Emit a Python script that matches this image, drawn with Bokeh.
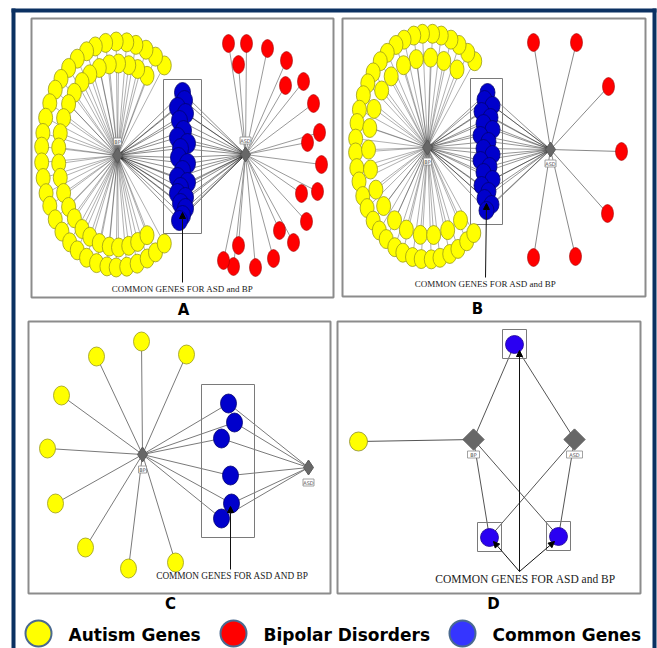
import numpy as np
from bokeh.plotting import figure
from bokeh.models import Range1d, Arrow, NormalHead
from bokeh.core.properties import value
from bokeh.embed import file_html
from bokeh.resources import INLINE

# ---------------- data ----------------
legend_labels = ["Autism Genes", "Bipolar Disorders", "Common Genes"]
legend_colors = ["#ffff00", "#ff0000", "#3535ff"]
legend_x = [38, 233, 462]

panel_letters = ["A", "B", "C", "D"]
captions = ["COMMON GENES FOR ASD and BP", "COMMON GENES FOR ASD and BP",
            "COMMON GENES FOR ASD AND BP", "COMMON GENES FOR ASD and BP"]
hub_names = ["BP", "ASD"]

# panel frames (left, right, top, bottom) and letter / caption anchors
panel_l = [31, 342, 28, 337]
panel_r = [333, 645, 330, 640]
panel_t = [18, 18, 321, 321]
panel_b = [297, 296, 593, 593]
letter_x = [183, 477, 170, 493]
letter_y = [309, 308, 603, 603]
caption_x = [182, 485, 232, 525]
caption_y = [288, 283, 575, 578]
caption_size = ["9px", "9px", "9.3px", "11.5px"]

# Panel A
a_hub_x = [117, 245]
a_hub_y = [155, 154]
a_outer_deg = [-52, -60, -68, -76, -83, -91, -99, -107, -114, -122, -130, -138,
               -145, -153, -161, -169, -176, -184, -192, -200, -207, -215, -223,
               -231, -238, -246, -254, -262, -269, -277, -285, -293, -300, -308]
a_inner_deg = [-60, -70, -79, -89, -98, -108, -118, -127, -137, -146, -156, -166,
               -175, -185, -194, -204, -214, -223, -233, -242, -252, -262, -271,
               -281, -290, -300]
a_red_x = [228, 246, 267, 238, 286, 303, 285, 313, 319, 307, 321, 317, 301, 306,
           279, 293, 238, 273, 255, 233, 223]
a_red_y = [43, 43, 48, 64, 60, 81, 85, 103, 132, 142, 164, 191, 193, 221, 230,
           242, 245, 258, 267, 266, 260]
a_blue_x = [182, 184, 177, 185, 179, 183, 177, 187, 180, 178, 187, 182, 177, 187,
            180, 177, 185, 180, 185, 182, 179]
a_blue_y = [92, 100, 107, 113, 120, 130, 137, 143, 148, 157, 163, 170, 177, 182,
            187, 193, 197, 203, 208, 215, 220]

# Panel B
b_hub_x = [427, 550]
b_hub_y = [147, 149]
b_outer_deg = [-49, -56, -64, -71, -79, -86, -94, -101, -109, -116, -124, -131,
               -139, -146, -153, -161, -168, -176, -183, -191, -198, -206, -213,
               -221, -228, -235, -243, -250, -258, -265, -273, -280, -288, -295,
               -303, -310]
b_inner_deg = [-60, -74, -87, -101, -114, -128, -141, -155, -168, -182, -195,
               -209, -222, -236, -249, -263, -276, -290, -304]
b_red_x = [533, 576, 608, 621, 607, 575, 533]
b_red_y = [42, 42, 86, 151, 213, 256, 257]
b_blue_x = [487, 484, 492, 481, 490, 483, 492, 480, 488, 483, 492, 480, 489, 483,
            492, 481, 488, 484, 491, 486]
b_blue_y = [92, 99, 105, 111, 117, 123, 129, 135, 141, 148, 154, 160, 166, 172,
            179, 185, 191, 198, 204, 210]

# Panel C
c_hub_x = [142, 308]
c_hub_y = [454, 467]
c_yellow_x = [141, 96, 186, 61, 47, 55, 85, 128, 175]
c_yellow_y = [341, 356, 354, 395, 448, 503, 547, 568, 562]
c_blue_x = [228, 234, 221, 230, 231, 221]
c_blue_y = [403, 422, 438, 475, 503, 518]

# Panel D
d_hub_x = [473, 574]
d_hub_y = [439, 439]
d_yellow_x = [358]
d_yellow_y = [441]
d_blue_x = [514, 489, 558]
d_blue_y = [344, 537, 536]
d_edge_hub = [0, 0, 1, 0, 0, 1, 1]      # 0 = BP, 1 = ASD
d_edge_from_yellow = [True, False, False, False, False, False, False]
d_edge_node = [0, 0, 0, 1, 2, 1, 2]

# ---------------- figure ----------------
p = figure(width=657, height=648, x_range=Range1d(0, 657), y_range=Range1d(648, 0),
           output_backend="svg", toolbar_location=None, min_border=0)
p.axis.visible = False
p.grid.visible = False
p.outline_line_color = None
p.background_fill_color = "white"
p.border_fill_color = "white"

NAVY = "#0b3162"
p.quad(left=[11, 11, 652], right=[15, 656, 656], top=[8, 8, 8], bottom=[648, 12, 648],
       fill_color=NAVY, line_color=None)

# panel frames
p.quad(left=panel_l, right=panel_r, top=panel_t, bottom=panel_b,
       fill_color=None, line_color="#8c8c8c", line_width=2)


def ring(cx, cy, rx, ry, deg):
    t = np.radians(np.array(deg, dtype=float))
    return list(cx + rx * np.cos(t)), list(cy + ry * np.sin(t))


def edges(hx, hy, xs, ys, color, alpha, width):
    n = len(xs)
    p.segment(x0=[hx] * n, y0=[hy] * n, x1=xs, y1=ys,
              line_color=color, line_alpha=alpha, line_width=width)


def nodes(xs, ys, w, h, fill, line, lw=0.8):
    p.ellipse(x=xs, y=ys, width=w, height=h, fill_color=fill,
              line_color=line, line_width=lw)


def hubs(hx, hy, size, dy, widths):
    p.scatter(x=hx, y=hy, marker="diamond", size=size, fill_color="#676767",
              line_color="#5a5a5a")
    ly = [y + dy for y in hy]
    p.rect(x=hx, y=ly, width=widths, height=7, fill_color="white",
           line_color="#8a8a8a", line_width=0.8)
    p.text(x=hx, y=ly, text=hub_names, text_font=value("DejaVu Sans"),
           text_font_size="5px", text_color="#555555", text_align="center",
           text_baseline="middle")


def group_box(xs, ys, pad_x, pad_y):
    p.quad(left=[min(xs) - pad_x], right=[max(xs) + pad_x],
           top=[min(ys) - pad_y], bottom=[max(ys) + pad_y],
           fill_color=None, line_color="#7a7a7a", line_width=1)


YEL, YEL_LINE = "#ffff00", "#9a9a1a"
RED, RED_LINE = "#ff0000", "#a00000"
BLU, BLU_LINE = "#0000cc", "#000070"

# ---- Panel A ----
ao_x, ao_y = ring(117, 154, 76, 113, a_outer_deg)
ai_x, ai_y = ring(117, 155, 59, 92, a_inner_deg)
edges(a_hub_x[0], a_hub_y[0], ao_x + ai_x, ao_y + ai_y, "#222222", 0.6, 0.6)
edges(a_hub_x[1], a_hub_y[1], a_red_x, a_red_y, "#808080", 1, 0.8)
edges(a_hub_x[0], a_hub_y[0], a_blue_x, a_blue_y, "#000000", 0.75, 0.6)
edges(a_hub_x[1], a_hub_y[1], a_blue_x, a_blue_y, "#000000", 0.75, 0.6)
group_box(a_blue_x, a_blue_y, 14, 13)
nodes(ao_x, ao_y, 14, 19, YEL, YEL_LINE)
nodes(ai_x, ai_y, 14, 19, YEL, YEL_LINE)
nodes(a_red_x, a_red_y, 12, 18, RED, RED_LINE, 0.6)
nodes(a_blue_x, a_blue_y, 16, 20, BLU, BLU_LINE)
hubs(a_hub_x, a_hub_y, 15, -14, [8, 11])

# ---- Panel B ----
bo_x, bo_y = ring(427, 146, 72, 113, b_outer_deg)
bi_x, bi_y = ring(427, 146, 59, 89, b_inner_deg)
edges(b_hub_x[0], b_hub_y[0], bo_x + bi_x, bo_y + bi_y, "#333333", 0.65, 0.6)
edges(b_hub_x[1], b_hub_y[1], b_red_x, b_red_y, "#7a7a7a", 1, 0.9)
edges(b_hub_x[0], b_hub_y[0], b_blue_x, b_blue_y, "#000000", 0.7, 0.6)
edges(b_hub_x[1], b_hub_y[1], b_blue_x, b_blue_y, "#000000", 0.7, 0.6)
group_box(b_blue_x, b_blue_y, 10, 14)
nodes(bo_x, bo_y, 14, 19, YEL, YEL_LINE)
nodes(bi_x, bi_y, 14, 19, YEL, YEL_LINE)
nodes(b_red_x, b_red_y, 12, 18, RED, RED_LINE, 0.6)
nodes(b_blue_x, b_blue_y, 15, 18, BLU, BLU_LINE)
hubs(b_hub_x, b_hub_y, 15, 14, [8, 11])

# ---- Panel C ----
edges(c_hub_x[0], c_hub_y[0], c_yellow_x, c_yellow_y, "#7a7a7a", 1, 1)
edges(c_hub_x[0], c_hub_y[0], c_blue_x, c_blue_y, "#7a7a7a", 1, 1)
edges(c_hub_x[1], c_hub_y[1], c_blue_x, c_blue_y, "#7a7a7a", 1, 1)
group_box(c_blue_x, c_blue_y, 20, 19)
nodes(c_yellow_x, c_yellow_y, 16, 19, YEL, YEL_LINE)
nodes(c_blue_x, c_blue_y, 16, 19, BLU, BLU_LINE)
hubs(c_hub_x, c_hub_y, 15, 15, [8, 11])

# ---- Panel D ----
for hub, from_y, node in zip(d_edge_hub, d_edge_from_yellow, d_edge_node):
    if from_y:
        x0, y0, x1, y1 = d_yellow_x[0], d_yellow_y[0], d_hub_x[0], d_hub_y[0]
    else:
        x0, y0, x1, y1 = d_hub_x[hub], d_hub_y[hub], d_blue_x[node], d_blue_y[node]
    p.segment(x0=[x0], y0=[y0], x1=[x1], y1=[y1], line_color="#555555", line_width=1)
p.quad(left=[x - 12 for x in d_blue_x], right=[x + 12 for x in d_blue_x],
       top=[y - 15 for y in d_blue_y], bottom=[y + 14 for y in d_blue_y],
       fill_color=None, line_color="#7a7a7a", line_width=1)
nodes(d_yellow_x, d_yellow_y, 18, 19, YEL, "#8a8a2a")
nodes(d_blue_x, d_blue_y, 18, 18, "#2a00f2", "#1a0090")
p.scatter(x=d_hub_x, y=d_hub_y, marker="square", angle=np.pi / 4, size=15,
          fill_color="#676767", line_color="#5a5a5a")
p.rect(x=d_hub_x, y=[y + 15 for y in d_hub_y], width=[12, 16], height=7,
       fill_color="white", line_color="#8a8a8a", line_width=0.8)
p.text(x=d_hub_x, y=[y + 15 for y in d_hub_y], text=hub_names,
       text_font=value("DejaVu Sans"), text_font_size="5px", text_color="#555555",
       text_align="center", text_baseline="middle")

# ---- captions, arrows, letters ----
for i in range(4):
    p.text(x=[caption_x[i]], y=[caption_y[i]], text=[captions[i]],
           text_font=value("Liberation Serif"), text_font_size=caption_size[i],
           text_color="#1a1a1a", text_align="center", text_baseline="middle")

arrow_x0 = [182, 485, 230, 519, 519, 519]
arrow_y0 = [282, 277, 569, 571, 571, 571]
arrow_x1 = [182, 486, 230, 493, 554, 519]
arrow_y1 = [212, 203, 506, 541, 541, 350]
for x0, y0, x1, y1 in zip(arrow_x0, arrow_y0, arrow_x1, arrow_y1):
    p.add_layout(Arrow(end=NormalHead(size=6, fill_color="black", line_color="black"),
                       x_start=x0, y_start=y0, x_end=x1, y_end=y1,
                       line_color="#111111", line_width=1))

p.text(x=letter_x, y=letter_y, text=panel_letters, text_font=value("DejaVu Sans"),
       text_font_style="bold", text_font_size="15px", text_color="black",
       text_align="center", text_baseline="middle")

# ---- legend ----
p.ellipse(x=legend_x, y=[633] * 3, width=26, height=26, fill_color=legend_colors,
          line_color="#4a6a90", line_width=2)
p.text(x=[x + 30 for x in legend_x], y=[634] * 3, text=legend_labels,
       text_font=value("DejaVu Sans"), text_font_style="bold", text_font_size="17px",
       text_color="black", text_align="left", text_baseline="middle")

open("out.html", "w").write(file_html(p, INLINE))
